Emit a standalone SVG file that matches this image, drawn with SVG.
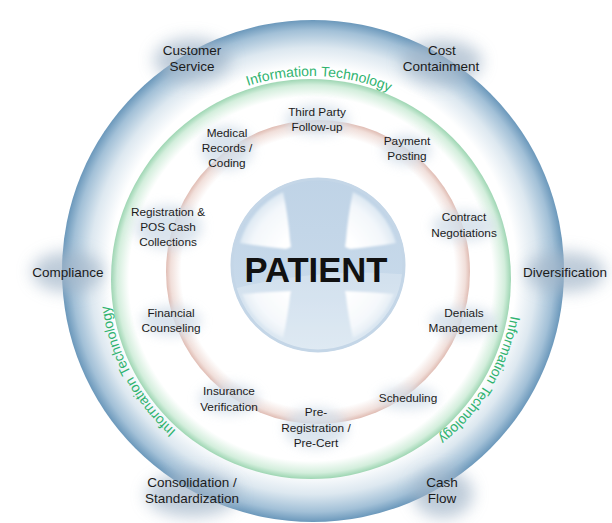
<svg xmlns="http://www.w3.org/2000/svg" xmlns:xlink="http://www.w3.org/1999/xlink" width="612" height="523" viewBox="0 0 612 523">
<defs>
  <radialGradient id="gOuter" gradientUnits="userSpaceOnUse" cx="313" cy="271" r="251">
    <stop offset="0.81" stop-color="#ffffff"/>
    <stop offset="0.89" stop-color="#dde8f0"/>
    <stop offset="0.96" stop-color="#a2c0d7"/>
    <stop offset="1" stop-color="#6b98bb"/>
  </radialGradient>
  <radialGradient id="gGreen" gradientUnits="userSpaceOnUse" cx="311" cy="279" r="200">
    <stop offset="0.91" stop-color="#ffffff"/>
    <stop offset="0.97" stop-color="#d3eedc"/>
    <stop offset="1" stop-color="#9ed6b3"/>
  </radialGradient>
  <radialGradient id="gPink" gradientUnits="userSpaceOnUse" cx="318" cy="272" r="152">
    <stop offset="0.9" stop-color="#ffffff"/>
    <stop offset="0.97" stop-color="#f1dfda"/>
    <stop offset="1" stop-color="#e0bcb3"/>
  </radialGradient>
  <linearGradient id="gPatient" x1="0" y1="0" x2="0" y2="1">
    <stop offset="0" stop-color="#bfd3e6"/>
    <stop offset="0.6" stop-color="#c7d9ea"/>
    <stop offset="1" stop-color="#d6e4f0"/>
  </linearGradient>
  <radialGradient id="gQuad" gradientUnits="userSpaceOnUse" cx="318" cy="266" r="82">
    <stop offset="0.5" stop-color="#ffffff"/>
    <stop offset="0.85" stop-color="#f3f7fb"/>
    <stop offset="1" stop-color="#dce8f2"/>
  </radialGradient>
  <clipPath id="cPatient"><circle cx="318" cy="265" r="85"/></clipPath>
  <filter id="blurO" x="-50%" y="-50%" width="200%" height="200%"><feGaussianBlur stdDeviation="8"/></filter>
  <filter id="blurI" x="-50%" y="-50%" width="200%" height="200%"><feGaussianBlur stdDeviation="6"/></filter>
  <filter id="blurS" x="-20%" y="-20%" width="140%" height="140%"><feGaussianBlur stdDeviation="1.2"/></filter>
  <path id="itArc" d="M 514,279 A 203 203 0 1 1 108,279 A 203 203 0 1 1 514,279"/>
  <style>
    .lo { font-family: "Liberation Sans", Arial, sans-serif; font-size: 13.5px; fill: #1b1b1b; text-anchor: middle; }
    .li { font-family: "Liberation Sans", Arial, sans-serif; font-size: 11.8px; fill: #1b1b1b; text-anchor: middle; }
    .it { font-family: "Liberation Sans", Arial, sans-serif; font-size: 14px; fill: #2fb36f; }
    .go { fill: #a3b6c9; opacity: 0.7; filter: url(#blurO); }
    .gi { fill: #d2dee9; opacity: 0.8; filter: url(#blurI); }
    .q { fill: url(#gQuad); }
  </style>
</defs>

<rect x="0" y="0" width="612" height="523" fill="#ffffff"/>

<g id="rings">
  <circle cx="313" cy="271" r="251" fill="url(#gOuter)"/>
  <circle cx="311" cy="279" r="200" fill="url(#gGreen)"/>
  <circle cx="318" cy="272" r="152" fill="url(#gPink)"/>
</g>

<g id="it-top">
  <text class="it"><textPath xlink:href="#itArc" href="#itArc" startOffset="892">Information</textPath></text>
  <text class="it"><textPath xlink:href="#itArc" href="#itArc" startOffset="966">Technology</textPath></text>
</g>
<g id="it-left">
  <text class="it"><textPath xlink:href="#itArc" href="#itArc" startOffset="466">Information</textPath></text>
  <text class="it"><textPath xlink:href="#itArc" href="#itArc" startOffset="540">Technology</textPath></text>
</g>
<g id="it-right">
  <text class="it"><textPath xlink:href="#itArc" href="#itArc" startOffset="37">Information</textPath></text>
  <text class="it"><textPath xlink:href="#itArc" href="#itArc" startOffset="111">Technology</textPath></text>
</g>

<g id="patient">
  <circle cx="318" cy="265" r="87" fill="url(#gPatient)"/>
  <g clip-path="url(#cPatient)">
    <g filter="url(#blurS)">
      <path class="q" d="M 291,247 L 290,240 Q 288,215 283,192 A 81 81 0 0 0 240,243 Q 265,247 286,249 Z"/>
      <path class="q" d="M 345,247 L 346,240 Q 348,215 353,192 A 81 81 0 0 1 396,243 Q 371,247 350,249 Z"/>
      <path class="q" d="M 291,291 Q 266,292 242,294 A 81 81 0 0 0 283,338 Q 288,315 290,296 Z"/>
      <path class="q" d="M 345,291 Q 370,292 394,294 A 81 81 0 0 1 353,338 Q 348,315 346,296 Z"/>
    </g>
    <path d="M 222,292 Q 320,264 420,276 L 420,360 L 222,360 Z" fill="#ffffff" opacity="0.22"/>
  </g>
  <circle cx="318" cy="265" r="86" fill="none" stroke="#c4d6e7" stroke-width="3"/>
  <text x="316" y="282" font-family="'Liberation Sans', Arial, sans-serif" font-weight="bold" font-size="35" fill="#111111" text-anchor="middle" textLength="143" lengthAdjust="spacingAndGlyphs">PATIENT</text>
</g>

<g id="customer-service">
  <ellipse class="go" cx="192" cy="60" rx="38" ry="22"/>
  <text class="lo" x="192" y="55">Customer</text>
  <text class="lo" x="192" y="71">Service</text>
</g>
<g id="cost-containment">
  <ellipse class="go" cx="442" cy="62" rx="40" ry="22"/>
  <text class="lo" x="442" y="55">Cost</text>
  <text class="lo" x="441" y="71">Containment</text>
</g>
<g id="compliance">
  <ellipse class="go" cx="68" cy="272" rx="36" ry="20"/>
  <text class="lo" x="68" y="277">Compliance</text>
</g>
<g id="diversification">
  <ellipse class="go" cx="565" cy="272" rx="40" ry="20"/>
  <text class="lo" x="565" y="277">Diversification</text>
</g>
<g id="consolidation">
  <ellipse class="go" cx="192" cy="495" rx="46" ry="22"/>
  <text class="lo" x="192" y="487">Consolidation /</text>
  <text class="lo" x="192" y="503">Standardization</text>
</g>
<g id="cash-flow">
  <ellipse class="go" cx="443" cy="494" rx="30" ry="24"/>
  <text class="lo" x="442" y="487">Cash</text>
  <text class="lo" x="442" y="503">Flow</text>
</g>

<g id="third-party">
  <ellipse class="gi" cx="317" cy="120" rx="32" ry="15"/>
  <text class="li" x="317" y="116">Third Party</text>
  <text class="li" x="317" y="131">Follow-up</text>
</g>
<g id="medical-records">
  <ellipse class="gi" cx="227" cy="148" rx="26" ry="22"/>
  <text class="li" x="227" y="137">Medical</text>
  <text class="li" x="227" y="152">Records /</text>
  <text class="li" x="227" y="167">Coding</text>
</g>
<g id="payment-posting">
  <ellipse class="gi" cx="407" cy="150" rx="24" ry="15"/>
  <text class="li" x="407" y="145">Payment</text>
  <text class="li" x="407" y="160">Posting</text>
</g>
<g id="registration">
  <ellipse class="gi" cx="168" cy="227" rx="34" ry="22"/>
  <text class="li" x="168" y="216">Registration &amp;</text>
  <text class="li" x="168" y="231">POS Cash</text>
  <text class="li" x="168" y="246">Collections</text>
</g>
<g id="contract-negotiations">
  <ellipse class="gi" cx="464" cy="226" rx="32" ry="15"/>
  <text class="li" x="464" y="221">Contract</text>
  <text class="li" x="464" y="237">Negotiations</text>
</g>
<g id="financial-counseling">
  <ellipse class="gi" cx="171" cy="321" rx="30" ry="15"/>
  <text class="li" x="171" y="317">Financial</text>
  <text class="li" x="171" y="332">Counseling</text>
</g>
<g id="denials-management">
  <ellipse class="gi" cx="464" cy="322" rx="34" ry="15"/>
  <text class="li" x="464" y="317">Denials</text>
  <text class="li" x="463" y="332">Management</text>
</g>
<g id="insurance-verification">
  <ellipse class="gi" cx="229" cy="399" rx="30" ry="15"/>
  <text class="li" x="229" y="395">Insurance</text>
  <text class="li" x="229" y="411">Verification</text>
</g>
<g id="scheduling">
  <ellipse class="gi" cx="408" cy="398" rx="30" ry="11"/>
  <text class="li" x="408" y="402">Scheduling</text>
</g>
<g id="pre-registration">
  <ellipse class="gi" cx="316" cy="428" rx="32" ry="20"/>
  <text class="li" x="316" y="416">Pre-</text>
  <text class="li" x="316" y="432">Registration /</text>
  <text class="li" x="316" y="447">Pre-Cert</text>
</g>

<g id="connectors"></g>
</svg>
